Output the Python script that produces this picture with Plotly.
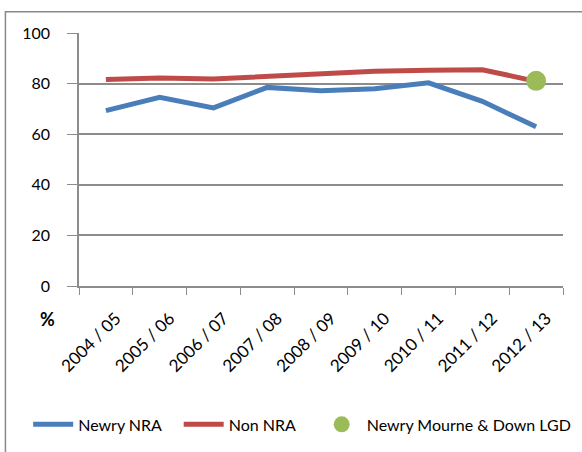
import plotly.graph_objects as go

years = ["2004 / 05", "2005 / 06", "2006 / 07", "2007 / 08", "2008 / 09",
         "2009 / 10", "2010 / 11", "2011 / 12", "2012 / 13"]
newry_nra = [69.3, 74.6, 70.4, 78.5, 77.2, 78.0, 80.3, 73.0, 62.9]
non_nra = [81.6, 82.2, 81.8, 82.9, 84.2, 84.9, 85.3, 85.5, 80.9]
lgd_year = ["2012 / 13"]
lgd_value = [81.1]

FONT = "Lato, 'Open Sans', sans-serif"
GRID = "#8c8c8c"
NBSP = "\u00a0"  # extra room between legend entries

fig = go.Figure()

fig.add_trace(go.Scatter(
    x=years, y=newry_nra, mode="lines", name="Newry NRA" + NBSP * 3,
    line=dict(color="#4a7ebb", width=5)
))
fig.add_trace(go.Scatter(
    x=years, y=non_nra, mode="lines", name="Non NRA" + NBSP * 4,
    line=dict(color="#be4b48", width=5)
))
fig.add_trace(go.Scatter(
    x=lgd_year, y=lgd_value, mode="markers", name="Newry Mourne & Down LGD",
    marker=dict(color="#9bbb59", size=20)
))

# outer chart border (runs off the right and bottom of the crop)
fig.add_shape(type="rect", xref="paper", yref="paper",
              x0=-0.152, x1=1.06, y0=-0.7, y1=1.084,
              line=dict(color="#888888", width=1.5), layer="below")

fig.add_annotation(text="<b>%</b>", xref="paper", yref="paper",
                   x=-0.084, y=-0.18, showarrow=False,
                   font=dict(size=18, color="black", family=FONT))

fig.update_layout(
    width=582, height=452,
    paper_bgcolor="white", plot_bgcolor="white",
    margin=dict(l=79, r=19, t=33, b=165),
    font=dict(family=FONT, size=16, color="black"),
    showlegend=True,
    legend=dict(orientation="h", x=-0.105, xanchor="left", y=-0.541, yanchor="middle",
                font=dict(size=16), itemwidth=40, bgcolor="rgba(0,0,0,0)"),
)

fig.update_xaxes(
    type="category", range=[-0.5, len(years) - 0.5],
    tickangle=-45, tickson="boundaries",
    ticks="outside", ticklen=7, tickcolor=GRID,
    showline=True, linecolor=GRID, linewidth=1.5,
    showgrid=False, tickfont=dict(size=17), ticklabelstandoff=14,
    ticklabelshift=10, fixedrange=True
)
fig.update_yaxes(
    range=[0, 100], dtick=20, ticks="outside", ticklen=10, tickcolor=GRID,
    showline=True, linecolor=GRID, linewidth=1.5,
    showgrid=True, gridcolor=GRID, gridwidth=1.5,
    zeroline=False, ticklabelstandoff=14, tickfont=dict(size=16)
)

fig.write_html("out.html", config={"displayModeBar": False},
               post_script="document.body.style.margin='0px';")
